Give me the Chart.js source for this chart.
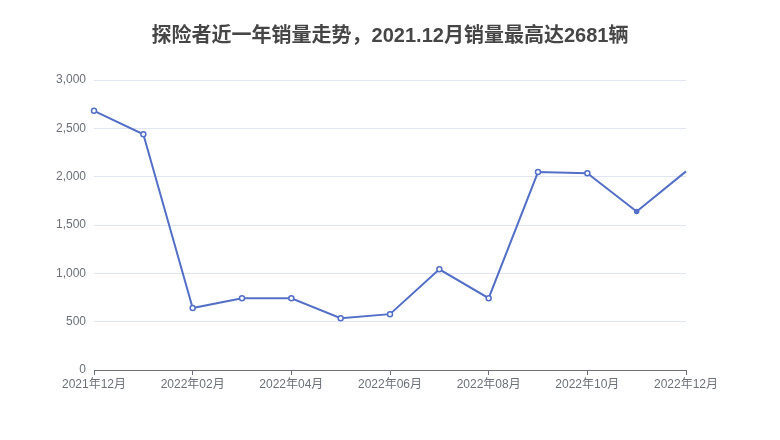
<!DOCTYPE html>
<html>
<head>
<meta charset="utf-8">
<script src="https://cdn.jsdelivr.net/npm/chart.js@4"></script>
<style>
  body { margin: 0; background: #fff; }
  #wrap { width: 780px; height: 440px; }
</style>
</head>
<body>
<div id="wrap"><canvas id="salesChart"></canvas></div>
<script>
const titleText = '探险者近一年销量走势，2021.12月销量最高达2681辆';
const months = ['2021年12月', '2022年01月', '2022年02月', '2022年03月', '2022年04月', '2022年05月', '2022年06月',
    '2022年07月', '2022年08月', '2022年09月', '2022年10月', '2022年11月', '2022年12月'];
const sales = [2681, 2438, 641, 742, 742, 536, 578, 1042, 743, 2047, 2035, 1640, 2055];

const lineColor = '#5470c6';
const axisColor = '#6e7079';
const font = "'Liberation Sans', 'Noto Sans CJK SC', sans-serif";

window.onload = function() {
    const ctx = document.getElementById('salesChart').getContext('2d');

    new Chart(ctx, {
        type: 'line',
        data: {
            labels: months,
            datasets: [{
                label: '销量',
                data: sales,
                borderColor: lineColor,
                borderWidth: 2,
                pointBackgroundColor: sales.map((v, i) => i === 11 ? lineColor : '#fff'),
                pointBorderColor: lineColor,
                pointBorderWidth: 1.5,
                pointRadius: sales.map((v, i) => i === 12 ? 0 : (i === 11 ? 2 : 2.5)),
                tension: 0,
                clip: false
            }]
        },
        options: {
            responsive: true,
            maintainAspectRatio: false,
            animation: false,
            plugins: {
                legend: { display: false },
                tooltip: { enabled: false },
                title: {
                    display: true,
                    text: titleText,
                    color: '#464646',
                    font: { family: font, size: 20, weight: 'bold' },
                    padding: { top: 24, bottom: 32 }
                }
            },
            scales: {
                x: {
                    grid: { drawOnChartArea: false, color: axisColor, tickLength: 5 },
                    border: { color: axisColor },
                    ticks: {
                        color: axisColor,
                        font: { family: font, size: 12 },
                        maxRotation: 0,
                        autoSkip: true,
                        maxTicksLimit: 7,
                        padding: 2
                    },
                    afterFit: s => { s.height = 70; }
                },
                y: {
                    min: 0,
                    max: 3000,
                    grid: { color: '#e0e6f1', drawTicks: false },
                    border: { display: false },
                    ticks: {
                        stepSize: 500,
                        color: axisColor,
                        font: { family: font, size: 12 },
                        padding: 8
                    },
                    afterFit: s => { s.width = 94; }
                },
                // empty right axis, only keeps the right margin so the title stays centred
                yRight: {
                    position: 'right',
                    grid: { display: false },
                    border: { display: false },
                    ticks: { display: false },
                    afterFit: s => { s.width = 94; }
                }
            }
        }
    });
};
</script>
</body>
</html>
